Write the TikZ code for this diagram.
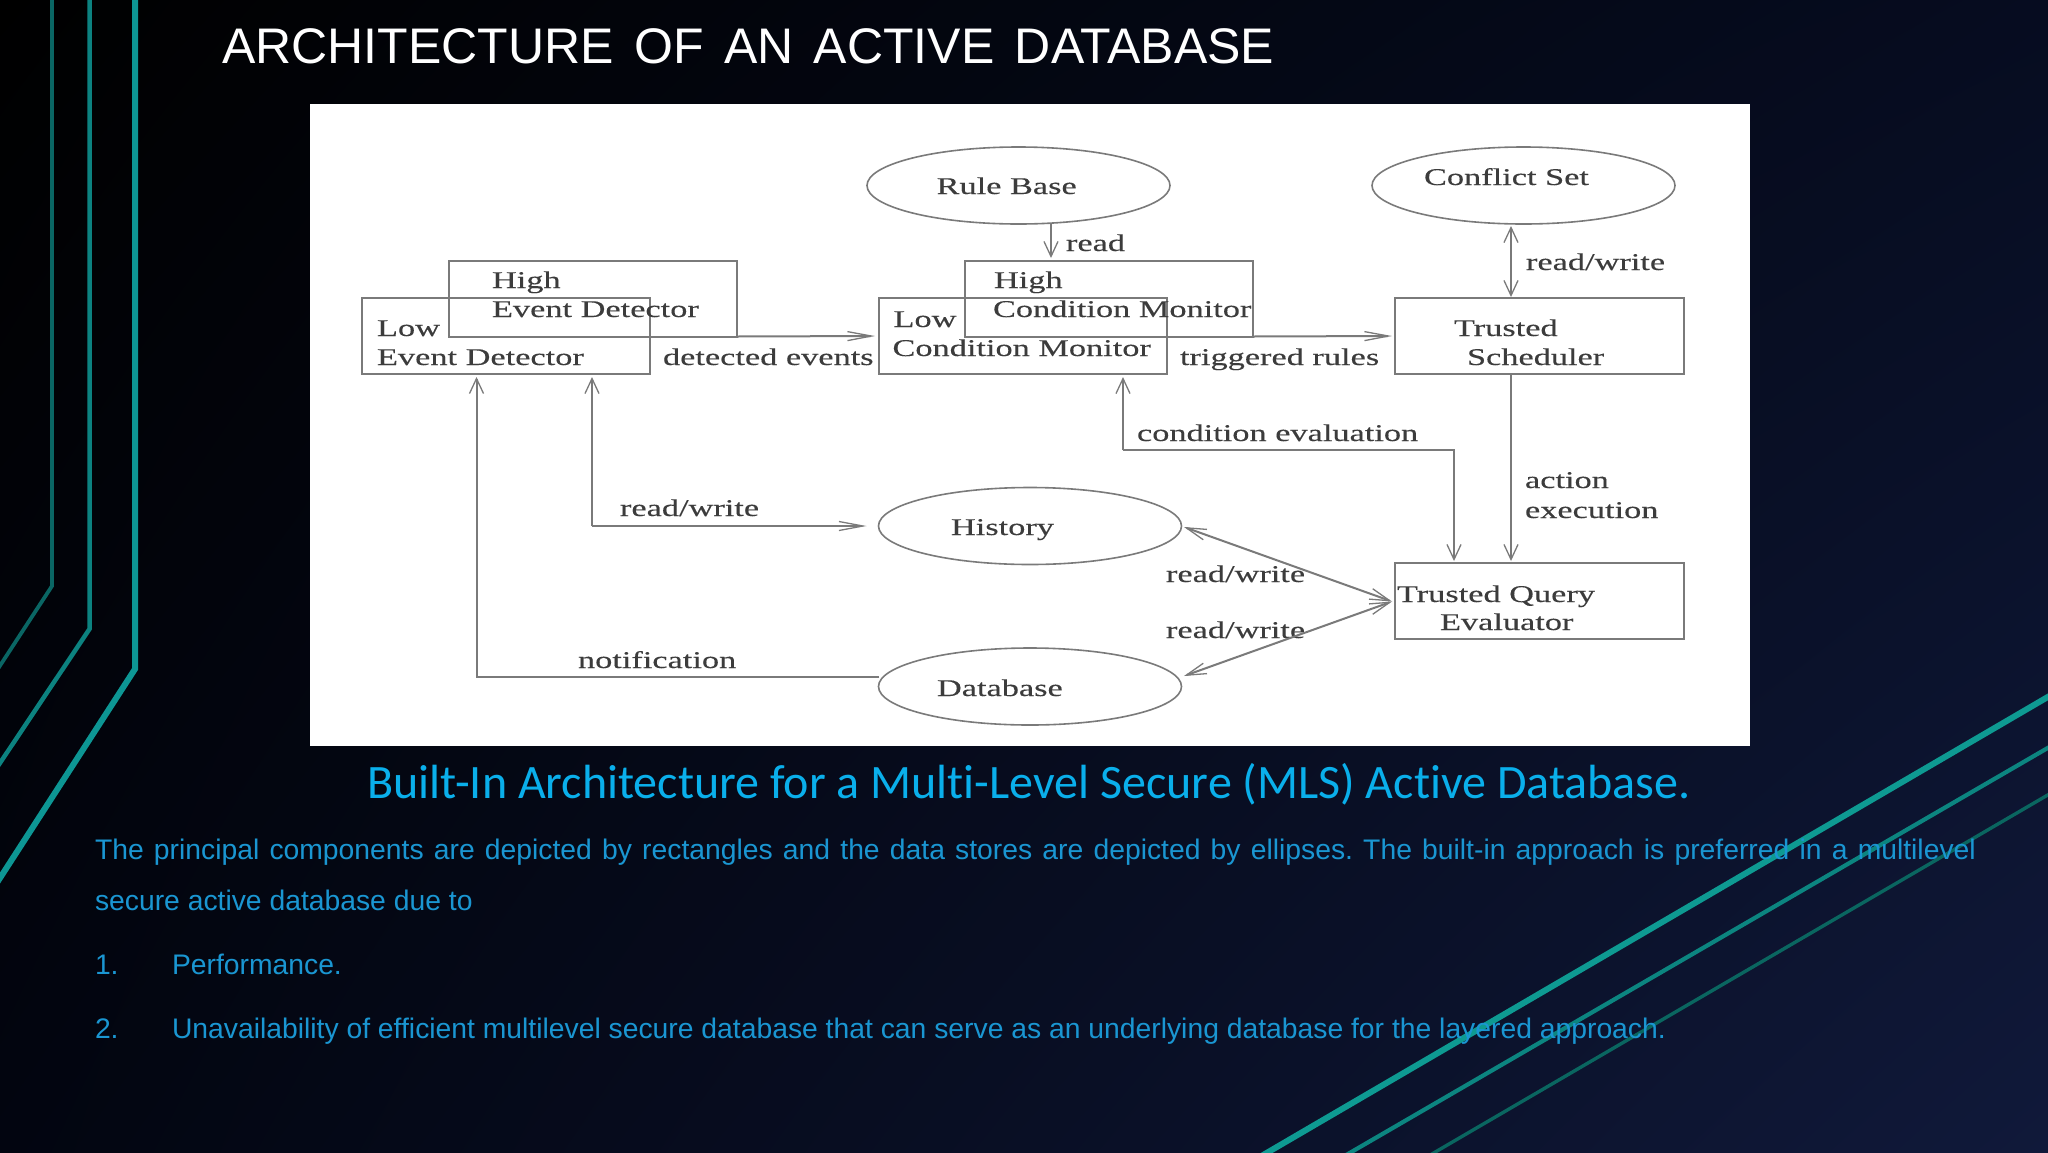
\documentclass[tikz,border=0pt]{standalone}
\usepackage{fontspec}
\usetikzlibrary{shapes.geometric,arrows.meta,shadings}
\setmainfont{Liberation Sans}
\newfontfamily\figfont[FakeStretch=1.43,FakeBold=0.25]{Liberation Serif}
\newfontfamily\capfont[Ligatures=NoCommon]{Carlito}
\definecolor{figink}{HTML}{3C3C3C}
\definecolor{figline}{HTML}{7A7A7A}
\definecolor{bodyblue}{HTML}{1A96D2}
\definecolor{capblue}{HTML}{0AAFEB}
\tikzset{
  rectbox/.style={draw=figline,line width=2pt,inner sep=0pt,outer sep=0pt,minimum width=288pt,minimum height=76pt},
  oval/.style={ellipse,draw=figline,line width=1.6pt,inner sep=0pt,outer sep=0pt,minimum width=303pt,minimum height=77pt},
  figlab/.style={anchor=base west,inner sep=0pt,outer sep=0pt,text=figink,font=\figfont\fontsize{24}{24}\selectfont},
  conn/.style={draw=figline,line width=2pt},
  harr/.style={conn,-{Straight Barb[length=24pt,width=9pt,line width=1.3pt]}},
  varr/.style={conn,-{Straight Barb[length=15pt,width=14pt,line width=1.3pt]}},
  darr/.style={conn,{Straight Barb[length=20pt,width=11pt,line width=1.3pt]}-{Straight Barb[length=20pt,width=11pt,line width=1.3pt]}},
  vdarr/.style={conn,{Straight Barb[length=15pt,width=14pt,line width=1.3pt]}-{Straight Barb[length=15pt,width=14pt,line width=1.3pt]}},
  body/.style={anchor=base west,inner sep=0pt,outer sep=0pt,text=bodyblue,font=\fontsize{28.3}{28.3}\selectfont},
}
\frenchspacing
\begin{document}
\frenchspacing
\begin{tikzpicture}[x=1pt,y=-1pt]
\useasboundingbox (0,0) rectangle (2048,1152);
\clip (0,0) rectangle (2048,1152);
\shade[upper left=black,upper right={rgb,255:red,6;green,12;blue,32},lower left={rgb,255:red,2;green,5;blue,16},lower right={rgb,255:red,16;green,25;blue,58}] (0,0) rectangle (2048,1152);
% slide accents
\draw[line width=6pt,color={rgb,255:red,13;green,150;blue,148},line join=miter] (135,-5) -- (135,669) -- (-10,893.5);
\draw[line width=4.5pt,color={rgb,255:red,12;green,130;blue,128},line join=miter] (89.5,-5) -- (89.5,629) -- (-10,778);
\draw[line width=3.8pt,color={rgb,255:red,10;green,102;blue,100},line join=miter] (52,-5) -- (52,586) -- (-10,681);
\draw[line width=6pt,color={rgb,255:red,14;green,154;blue,146}] (2058,691) -- (1258,1158);
\draw[line width=4.2pt,color={rgb,255:red,12;green,133;blue,128}] (2058,742) -- (1341,1158);
\draw[line width=3.4pt,color={rgb,255:red,10;green,102;blue,96}] (2058,789) -- (1425,1158);
% title
\node[anchor=base west,inner sep=0pt,text=white,font=\fontsize{50}{50}\selectfont] (title) at (222,63) {\spaceskip=20.4pt ARCHITECTURE OF AN ACTIVE DATABASE};
% picture panel
\node[fill=white,inner sep=0pt,outer sep=0pt,minimum width=1440pt,minimum height=642pt,anchor=north west] (panel) at (310,103.5) {};
% boxes
\node[rectbox] (highED) at (592.5,298.5) {};
\node[rectbox] (lowED) at (506,336) {};
\node[rectbox] (highCM) at (1108.5,298.5) {};
\node[rectbox] (lowCM) at (1023,336) {};
\node[rectbox,minimum width=289pt] (sched) at (1539.5,336) {};
\node[rectbox,minimum width=289pt] (tqe) at (1539.5,601) {};
\node[oval] (rule) at (1018.5,185.5) {};
\node[oval] (conflict) at (1523.5,185.5) {};
\node[oval] (history) at (1030,526) {};
\node[oval] (database) at (1030,686.5) {};
% labels
\node[figlab] (l1) at (492,288) {High};
\node[figlab] (l2) at (492,317) {Event Detector};
\node[figlab] (l3) at (377,336) {Low};
\node[figlab] (l4) at (377,365) {Event Detector};
\node[figlab] (l5) at (663,365) {detected events};
\node[figlab] (l6) at (936.6,194) {Rule Base};
\node[figlab] (l7) at (893.5,327) {Low};
\node[figlab] (l8) at (892.5,356) {Condition Monitor};
\node[figlab] (l9) at (994,288) {High};
\node[figlab] (l10) at (993,317) {Condition Monitor};
\node[figlab] (l11) at (1066,251) {read};
\node[figlab] (l12) at (1424,185) {Conflict Set};
\node[figlab] (l13) at (1526,270) {read/write};
\node[figlab] (l14) at (1454,336) {Trusted};
\node[figlab] (l15) at (1467,365) {Scheduler};
\node[figlab] (l16) at (1180,365) {triggered rules};
\node[figlab] (l17) at (620,516) {read/write};
\node[figlab] (l18) at (951,535) {History};
\node[figlab] (l19) at (578,668) {notification};
\node[figlab] (l20) at (937,696) {Database};
\node[figlab] (l21) at (1137,441) {condition evaluation};
\node[figlab] (l22) at (1525,488) {action};
\node[figlab] (l23) at (1525,518) {execution};
\node[figlab] (l24) at (1166,582) {read/write};
\node[figlab] (l25) at (1166,638) {read/write};
\node[figlab] (l26) at (1397,602) {Trusted Query};
\node[figlab] (l27) at (1440,630) {Evaluator};
% connectors
\coordinate (ruleOut) at (1051,224);
\coordinate (cmTop) at (1051,261);
\draw[varr,shorten >=3pt] (ruleOut) -- (cmTop);
\draw[harr,shorten >=4pt] (highED.south east) -- (lowCM.west);
\draw[harr,shorten >=3pt] (highCM.south east) -- (sched.west);
\coordinate (csB) at (1511,224);
\coordinate (schT) at (1511,298);
\draw[vdarr,shorten <=2pt,shorten >=1pt] (csB) -- (schT);
\coordinate (schB) at (1511,374);
\coordinate (tqT) at (1511,563);
\draw[varr,shorten >=2pt] (schB) -- (tqT);
\coordinate (ceA) at (1123,374);
\coordinate (ceB) at (1123,450);
\coordinate (ceC) at (1454,450);
\coordinate (ceD) at (1454,563);
\draw[varr,shorten >=3pt] (ceB) -- (ceA);
\draw[varr,shorten >=2pt] (ceB) -- (ceC) -- (ceD);
\coordinate (rwA) at (592,374);
\coordinate (rwB) at (592,526);
\draw[varr,shorten >=3pt] (rwB) -- (rwA);
\draw[harr,shorten >=12pt] (rwB) -- (history.west);
\coordinate (noA) at (476.5,374);
\coordinate (noB) at (476.5,677);
\coordinate (dbL) at (879,677);
\draw[varr,shorten >=3pt] (dbL) -- (noB) -- (noA);
\coordinate (hisE) at (1184,527);
\coordinate (dbE) at (1184,676);
\coordinate (tqW) at (1392,601.5);
\draw[darr] (hisE) -- (tqW);
\draw[darr] (dbE) -- (tqW);
% caption
\node[anchor=base,inner sep=0pt,text=capblue,font=\capfont\fontsize{48}{48}\selectfont] (cap) at (1029,798) {Built-In Architecture for a Multi-Level Secure (MLS) Active Database.};
% body
\node[body] (b1) at (95,859) {\makebox[1881pt][s]{The principal components are depicted by rectangles and the data stores are depicted by ellipses. The built-in approach is preferred in a multilevel}};
\node[body] (b2) at (95,910) {secure active database due to};
\node[body] (n1) at (95,974) {1.};
\node[body] (t1) at (172,974) {Performance.};
\node[body] (n2) at (95,1038) {2.};
\node[body] (t2) at (172,1038) {Unavailability of efficient multilevel secure database that can serve as an underlying database for the layered approach.};
\end{tikzpicture}
\end{document}
